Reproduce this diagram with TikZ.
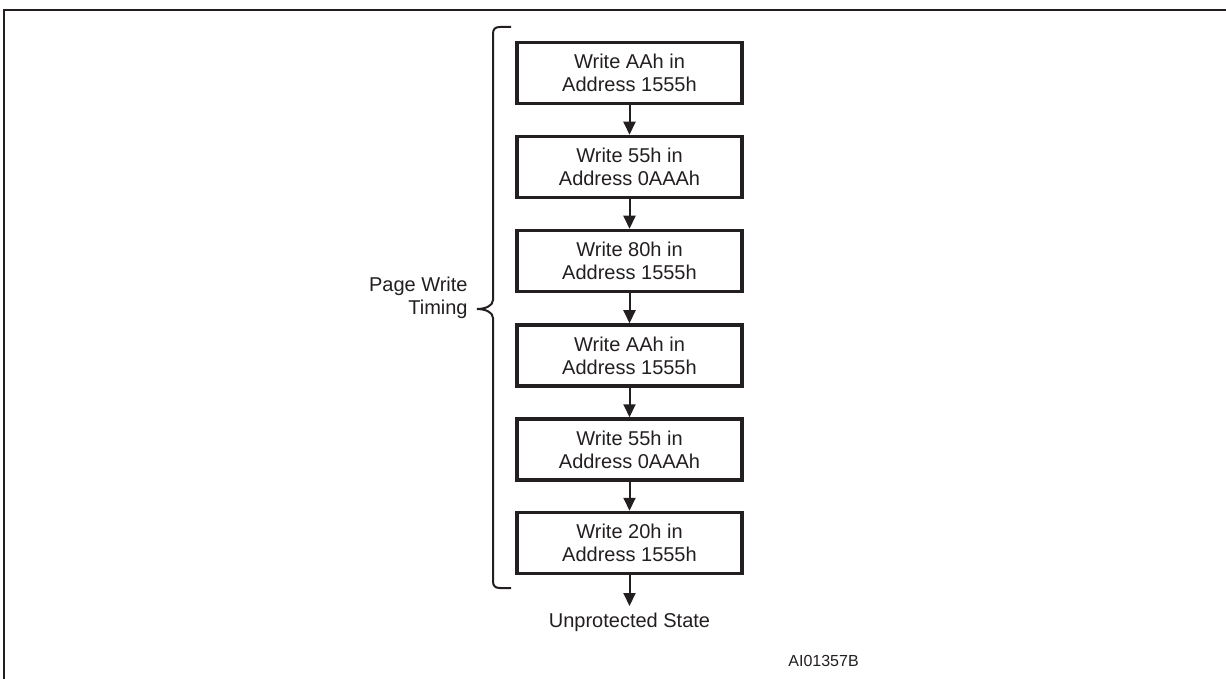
\documentclass[tikz,border=0pt]{standalone}
\usepackage{fontspec}
\setmainfont{Liberation Sans}
\usetikzlibrary{arrows.meta}
\definecolor{ink}{HTML}{231F20}
\tikzset{
  stepbox/.style={draw=ink, line width=1.75pt, minimum width=112.5pt, minimum height=30.5pt,
    inner sep=0pt, align=center, font=\fontsize{10}{11.5}\selectfont, text=ink},
  flow/.style={draw=ink, line width=1pt, -{Triangle[length=6.5pt,width=6pt]}},
  lbl/.style={font=\fontsize{10}{11.5}\selectfont, text=ink, inner sep=0pt}
}
\begin{document}
\begin{tikzpicture}[x=0.5pt,y=-0.5pt]
\useasboundingbox (0,0) rectangle (1226,679);
% outer frame (partly visible)
\draw[ink, line width=1.25pt] (4,679) -- (4,10) -- (1226,10);
% boxes
\node[stepbox] (b1) at (629.5,73) {Write AAh in\\Address 1555h};
\node[stepbox] (b2) at (629.5,167) {Write 55h in\\Address 0AAAh};
\node[stepbox] (b3) at (629.5,261) {Write 80h in\\Address 1555h};
\node[stepbox] (b4) at (629.5,355.5) {Write AAh in\\Address 1555h};
\node[stepbox] (b5) at (629.5,449.5) {Write 55h in\\Address 0AAAh};
\node[stepbox] (b6) at (629.5,543) {Write 20h in\\Address 1555h};
\node[lbl, anchor=north] (us) at (629.5,613) {Unprotected State};
\coordinate (usin) at (629.5,606);
\draw[flow] (b1.south) -- (b2.north);
\draw[flow] (b2.south) -- (b3.north);
\draw[flow] (b3.south) -- (b4.north);
\draw[flow] (b4.south) -- (b5.north);
\draw[flow] (b5.south) -- (b6.north);
\draw[flow] (b6.south) -- (usin);
% brace
\coordinate (tip) at (477,309);
\draw[ink, line width=1pt]
  (511,27) -- (500,27) .. controls (495,27) and (493,29) .. (493,34)
  -- (493,300) .. controls (493,306) and (485,309) .. (tip)
  .. controls (485,309) and (493,312) .. (493,318)
  -- (493,581) .. controls (493,586) and (495,588) .. (500,588) -- (511,588);
\node[lbl, anchor=east, align=right] (pwt) at (468,298) {Page Write\\Timing};
\node[lbl, anchor=west, font=\fontsize{8}{9}\selectfont] (code) at (788,661) {AI01357B};
\end{tikzpicture}
\end{document}
